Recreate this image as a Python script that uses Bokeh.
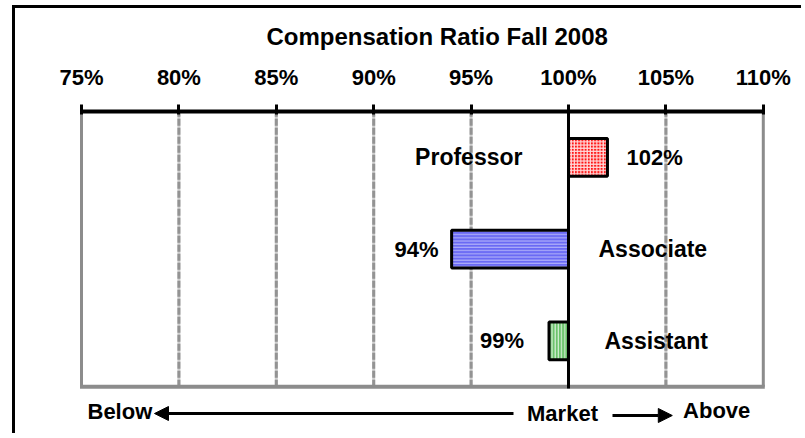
from bokeh.plotting import figure
from bokeh.models import Range1d, FixedTicker, NumeralTickFormatter, Arrow, NormalHead, ColumnDataSource
from bokeh.core.properties import value
from bokeh.embed import file_html
from bokeh.resources import INLINE

# ---------------- data ----------------
TITLE = "Compensation Ratio Fall 2008"
CATEGORIES = ["Professor", "Associate", "Assistant"]
RATIOS = [1.02, 0.94, 0.99]
TICKS = [0.75, 0.80, 0.85, 0.90, 0.95, 1.00, 1.05, 1.10]
MARKET = 1.00
SCALE_LABELS = ["Below", "Market", "Above"]

# ---------------- styles ----------------
COLORS = ["#FF1414", "#6A6AF4", "#6BC46B"]
HATCHES = ["+", "-", "|"]
HATCH_ALPHA = [0.85, 0.45, 0.7]
VALUE_DX = [19, -13, -25]
CAT_DX = [-46, 30, 36]
FONT = "Liberation Sans"

W, H = 789, 428
X0, X1 = 0.71612, 0.71612 + W / 1948.0
PX = (X1 - X0) / W              # data units per pixel
UNIT = 91.75                    # pixels per category band
FRAME_TOP = 103
Y_TOP = len(CATEGORIES) - 0.5
Y_BOT = Y_TOP - (H - FRAME_TOP) / UNIT
Y_BASE = -0.5
BOTTOM_Y = Y_TOP - 300 / UNIT

ypos = list(range(len(CATEGORIES) - 1, -1, -1))

p = figure(width=W, height=H, x_range=Range1d(X0, X1), y_range=Range1d(Y_BOT, Y_TOP),
           x_axis_location="above", y_axis_location=None,
           output_backend="svg", toolbar_location=None,
           min_border_left=0, min_border_right=0, min_border_top=FRAME_TOP, min_border_bottom=0,
           title=TITLE,
           styles={"border-left": "3px solid black", "border-top": "3px solid black"})
p.margin = (5, 0, 0, 12)
p.grid.visible = False
p.outline_line_color = None
p.background_fill_color = "white"
p.border_fill_color = "white"

p.title.text_font = FONT
p.title.text_font_size = "24px"
p.title.text_font_style = "bold"
p.title.text_color = "black"
p.title.align = "left"
p.title.offset = 251
p.title.standoff = 24

ax = p.xaxis[0]
ax.ticker = FixedTicker(ticks=TICKS)
ax.formatter = NumeralTickFormatter(format="0%")
ax.bounds = (TICKS[0], TICKS[-1])
ax.axis_line_width = 4
ax.axis_line_color = "black"
ax.major_tick_line_width = 3
ax.major_tick_line_color = "black"
ax.major_tick_out = 7
ax.major_tick_in = 3
ax.minor_tick_line_color = None
ax.major_label_text_font = FONT
ax.major_label_text_font_size = "22px"
ax.major_label_text_font_style = "bold"
ax.major_label_text_color = "black"
ax.major_label_standoff = 15

# grid lines
inner = TICKS[1:-1]
p.segment(x0=inner, y0=[Y_BASE] * len(inner), x1=inner, y1=[Y_TOP] * len(inner),
          line_color="#CFCFCF", line_width=3)
p.segment(x0=inner, y0=[Y_BASE] * len(inner), x1=inner, y1=[Y_TOP] * len(inner),
          line_color="#939393", line_width=3, line_dash="7 2")
edges = [TICKS[0], TICKS[-1]]
p.segment(x0=edges, y0=[Y_BASE] * 2, x1=edges, y1=[Y_TOP] * 2,
          line_color="#8C8C8C", line_width=3)
p.segment(x0=[TICKS[0] - 1.5 * PX], y0=[Y_BASE], x1=[TICKS[-1] + 1.5 * PX], y1=[Y_BASE],
          line_color="#8C8C8C", line_width=4)

# bars
src = ColumnDataSource(dict(
    y=ypos, r=RATIOS, color=COLORS, hatch=HATCHES, ha=HATCH_ALPHA,
    vlabel=[f"{round(r * 100)}%" for r in RATIOS],
    valign=["left" if r >= MARKET else "right" for r in RATIOS],
    vdx=VALUE_DX,
    cat=CATEGORIES,
    calign=["right" if r >= MARKET else "left" for r in RATIOS],
    cdx=CAT_DX,
    m=[MARKET] * len(RATIOS),
))
p.hbar(y="y", left=MARKET, right="r", height=0.41, source=src,
       fill_color="color", hatch_pattern="hatch", hatch_color="white", hatch_alpha="ha",
       hatch_scale=3.2, hatch_weight=1.2, line_color="black", line_width=3)

# market line
p.segment(x0=[MARKET], y0=[Y_BASE - 0.02], x1=[MARKET], y1=[Y_TOP],
          line_color="black", line_width=3)

# labels
p.text(x="r", y="y", text="vlabel", source=src, text_align="valign", x_offset="vdx",
       text_baseline="middle", text_font=value(FONT), text_font_size="22px",
       text_font_style="bold", text_color="black")
p.text(x="m", y="y", text="cat", source=src, text_align="calign", x_offset="cdx",
       text_baseline="middle", text_font=value(FONT), text_font_size="23px",
       text_font_style="bold", text_color="black")

# bottom scale annotation
bsrc = ColumnDataSource(dict(
    x=[TICKS[0], MARKET, TICKS[-1]], y=[BOTTOM_Y] * 3, t=SCALE_LABELS,
    a=["left", "center", "right"], dx=[6, -6, -13], dy=[0, 2, -1],
))
p.text(x="x", y="y", text="t", source=bsrc, text_align="a", x_offset="dx", y_offset="dy",
       text_baseline="middle", text_font=value(FONT), text_font_size="22px",
       text_font_style="bold", text_color="black")

p.add_layout(Arrow(end=NormalHead(size=14, fill_color="black", line_color="black"),
                   x_start=MARKET - 55 * PX, y_start=BOTTOM_Y - 2 / UNIT,
                   x_end=TICKS[0] + 73 * PX, y_end=BOTTOM_Y - 2 / UNIT,
                   line_color="black", line_width=3))
p.add_layout(Arrow(end=NormalHead(size=14, fill_color="black", line_color="black"),
                   x_start=MARKET + 44 * PX, y_start=BOTTOM_Y - 4 / UNIT,
                   x_end=TICKS[-1] - 91 * PX, y_end=BOTTOM_Y - 4 / UNIT,
                   line_color="black", line_width=3))

open("out.html", "w").write(file_html(p, INLINE))
